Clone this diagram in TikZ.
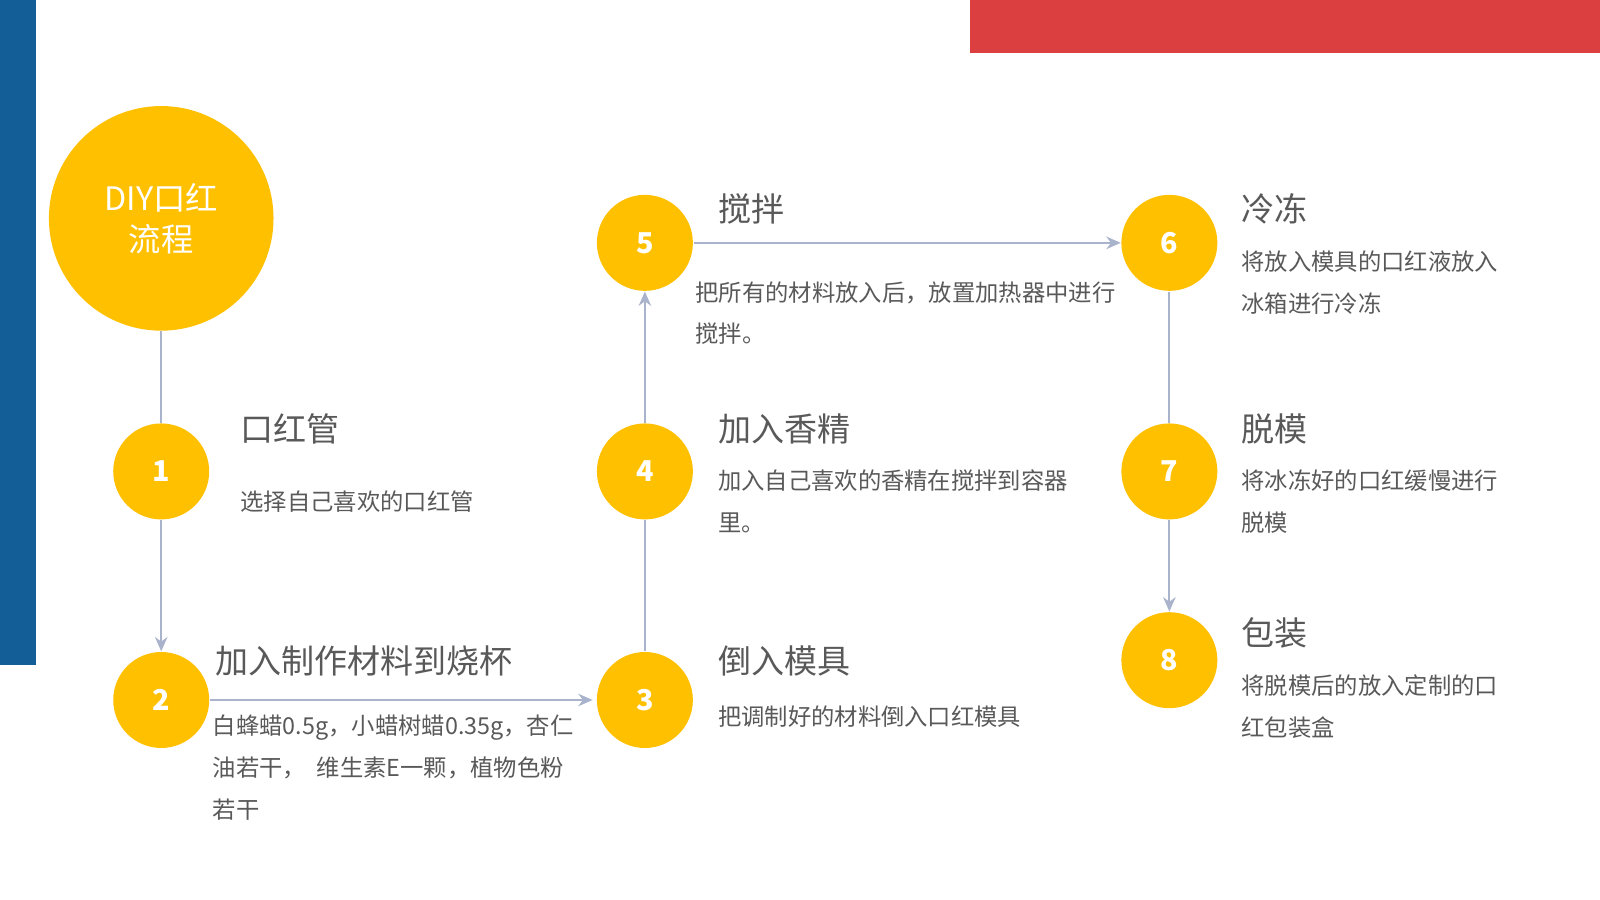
\documentclass[tikz,border=0pt]{standalone}
\usepackage{fontspec}
\setmainfont{Noto Sans CJK SC}
\usetikzlibrary{arrows.meta}
\definecolor{yel}{HTML}{FFC000}
\definecolor{blu}{HTML}{135E96}
\definecolor{redc}{HTML}{DC3F3F}
\definecolor{ln}{HTML}{A9B3CB}
\definecolor{tx}{HTML}{595959}
\tikzset{
 num/.style={circle,fill=yel,minimum size=0.94cm,inner sep=0pt,text=white,font=\fontsize{8}{8}\selectfont\bfseries},
 ttl/.style={anchor=west,text=tx,font=\fontsize{9.2}{10}\selectfont,inner sep=0pt},
 dsc/.style={anchor=north west,text=tx,font=\fontsize{6.5}{11.7}\selectfont,inner sep=0pt,align=left},
 con/.style={draw=ln,line width=0.5pt},
 arr/.style={con,-{Stealth[length=4pt,width=3.5pt]}}
}
\begin{document}
\begin{tikzpicture}[x=0.01cm,y=-0.01cm]
\useasboundingbox (0,0) rectangle (1568,882);
\fill[white] (0,0) rectangle (1568,882);
\fill[blu] (0,0) rectangle (35,652);
\fill[redc] (951,0) rectangle (1568,52);
\node[circle,fill=yel,minimum size=2.2cm,inner sep=0pt,text=white,align=center,font=\fontsize{9}{11.5}\selectfont] (c0) at (158,214) {DIY口红\\流程};
\node[num] (n1) at (158,462) {1};
\node[num] (n2) at (158,686) {2};
\node[num] (n3) at (632,686) {3};
\node[num] (n4) at (632,462) {4};
\node[num] (n5) at (632,238) {5};
\node[num] (n6) at (1146,238) {6};
\node[num] (n7) at (1146,462) {7};
\node[num] (n8) at (1146,647) {8};
\draw[con] (c0.south) -- (n1.north);
\draw[arr] (n1.south) -- (n2.north);
\draw[arr] (n2.east) -- ([xshift=-1]n3.west);
\draw[con] (n3.north) -- (n4.south);
\draw[arr] (n4.north) -- (n5.south);
\draw[arr] (n5.east) -- (n6.west);
\draw[con] (n6.south) -- (n7.north);
\draw[arr] (n7.south) -- (n8.north);
\node[ttl] (t1) at (235,420) {口红管};
\node[dsc] (d1) at (235,480) {选择自己喜欢的口红管};
\node[ttl] (t2) at (210,648) {加入制作材料到烧杯};
\node[dsc] (d2) at (208,700) {白蜂蜡0.5g，小蜡树蜡0.35g，杏仁\\油若干，\ \ 维生素E一颗，植物色粉\\若干};
\node[ttl] (t3) at (703,648) {倒入模具};
\node[dsc] (d3) at (703,691) {把调制好的材料倒入口红模具};
\node[ttl] (t4) at (703,420) {加入香精};
\node[dsc] (d4) at (703,460) {加入自己喜欢的香精在搅拌到容器\\里。};
\node[ttl] (t5) at (703,205) {搅拌};
\node[dsc] (d5) at (681,275) {把所有的材料放入后，放置加热器中进行\\搅拌。};
\node[ttl] (t6) at (1216,205) {冷冻};
\node[dsc] (d6) at (1216,245) {将放入模具的口红液放入\\冰箱进行冷冻};
\node[ttl] (t7) at (1216,420) {脱模};
\node[dsc] (d7) at (1216,460) {将冰冻好的口红缓慢进行\\脱模};
\node[ttl] (t8) at (1216,620) {包装};
\node[dsc] (d8) at (1216,661) {将脱模后的放入定制的口\\红包装盒};
\end{tikzpicture}
\end{document}
